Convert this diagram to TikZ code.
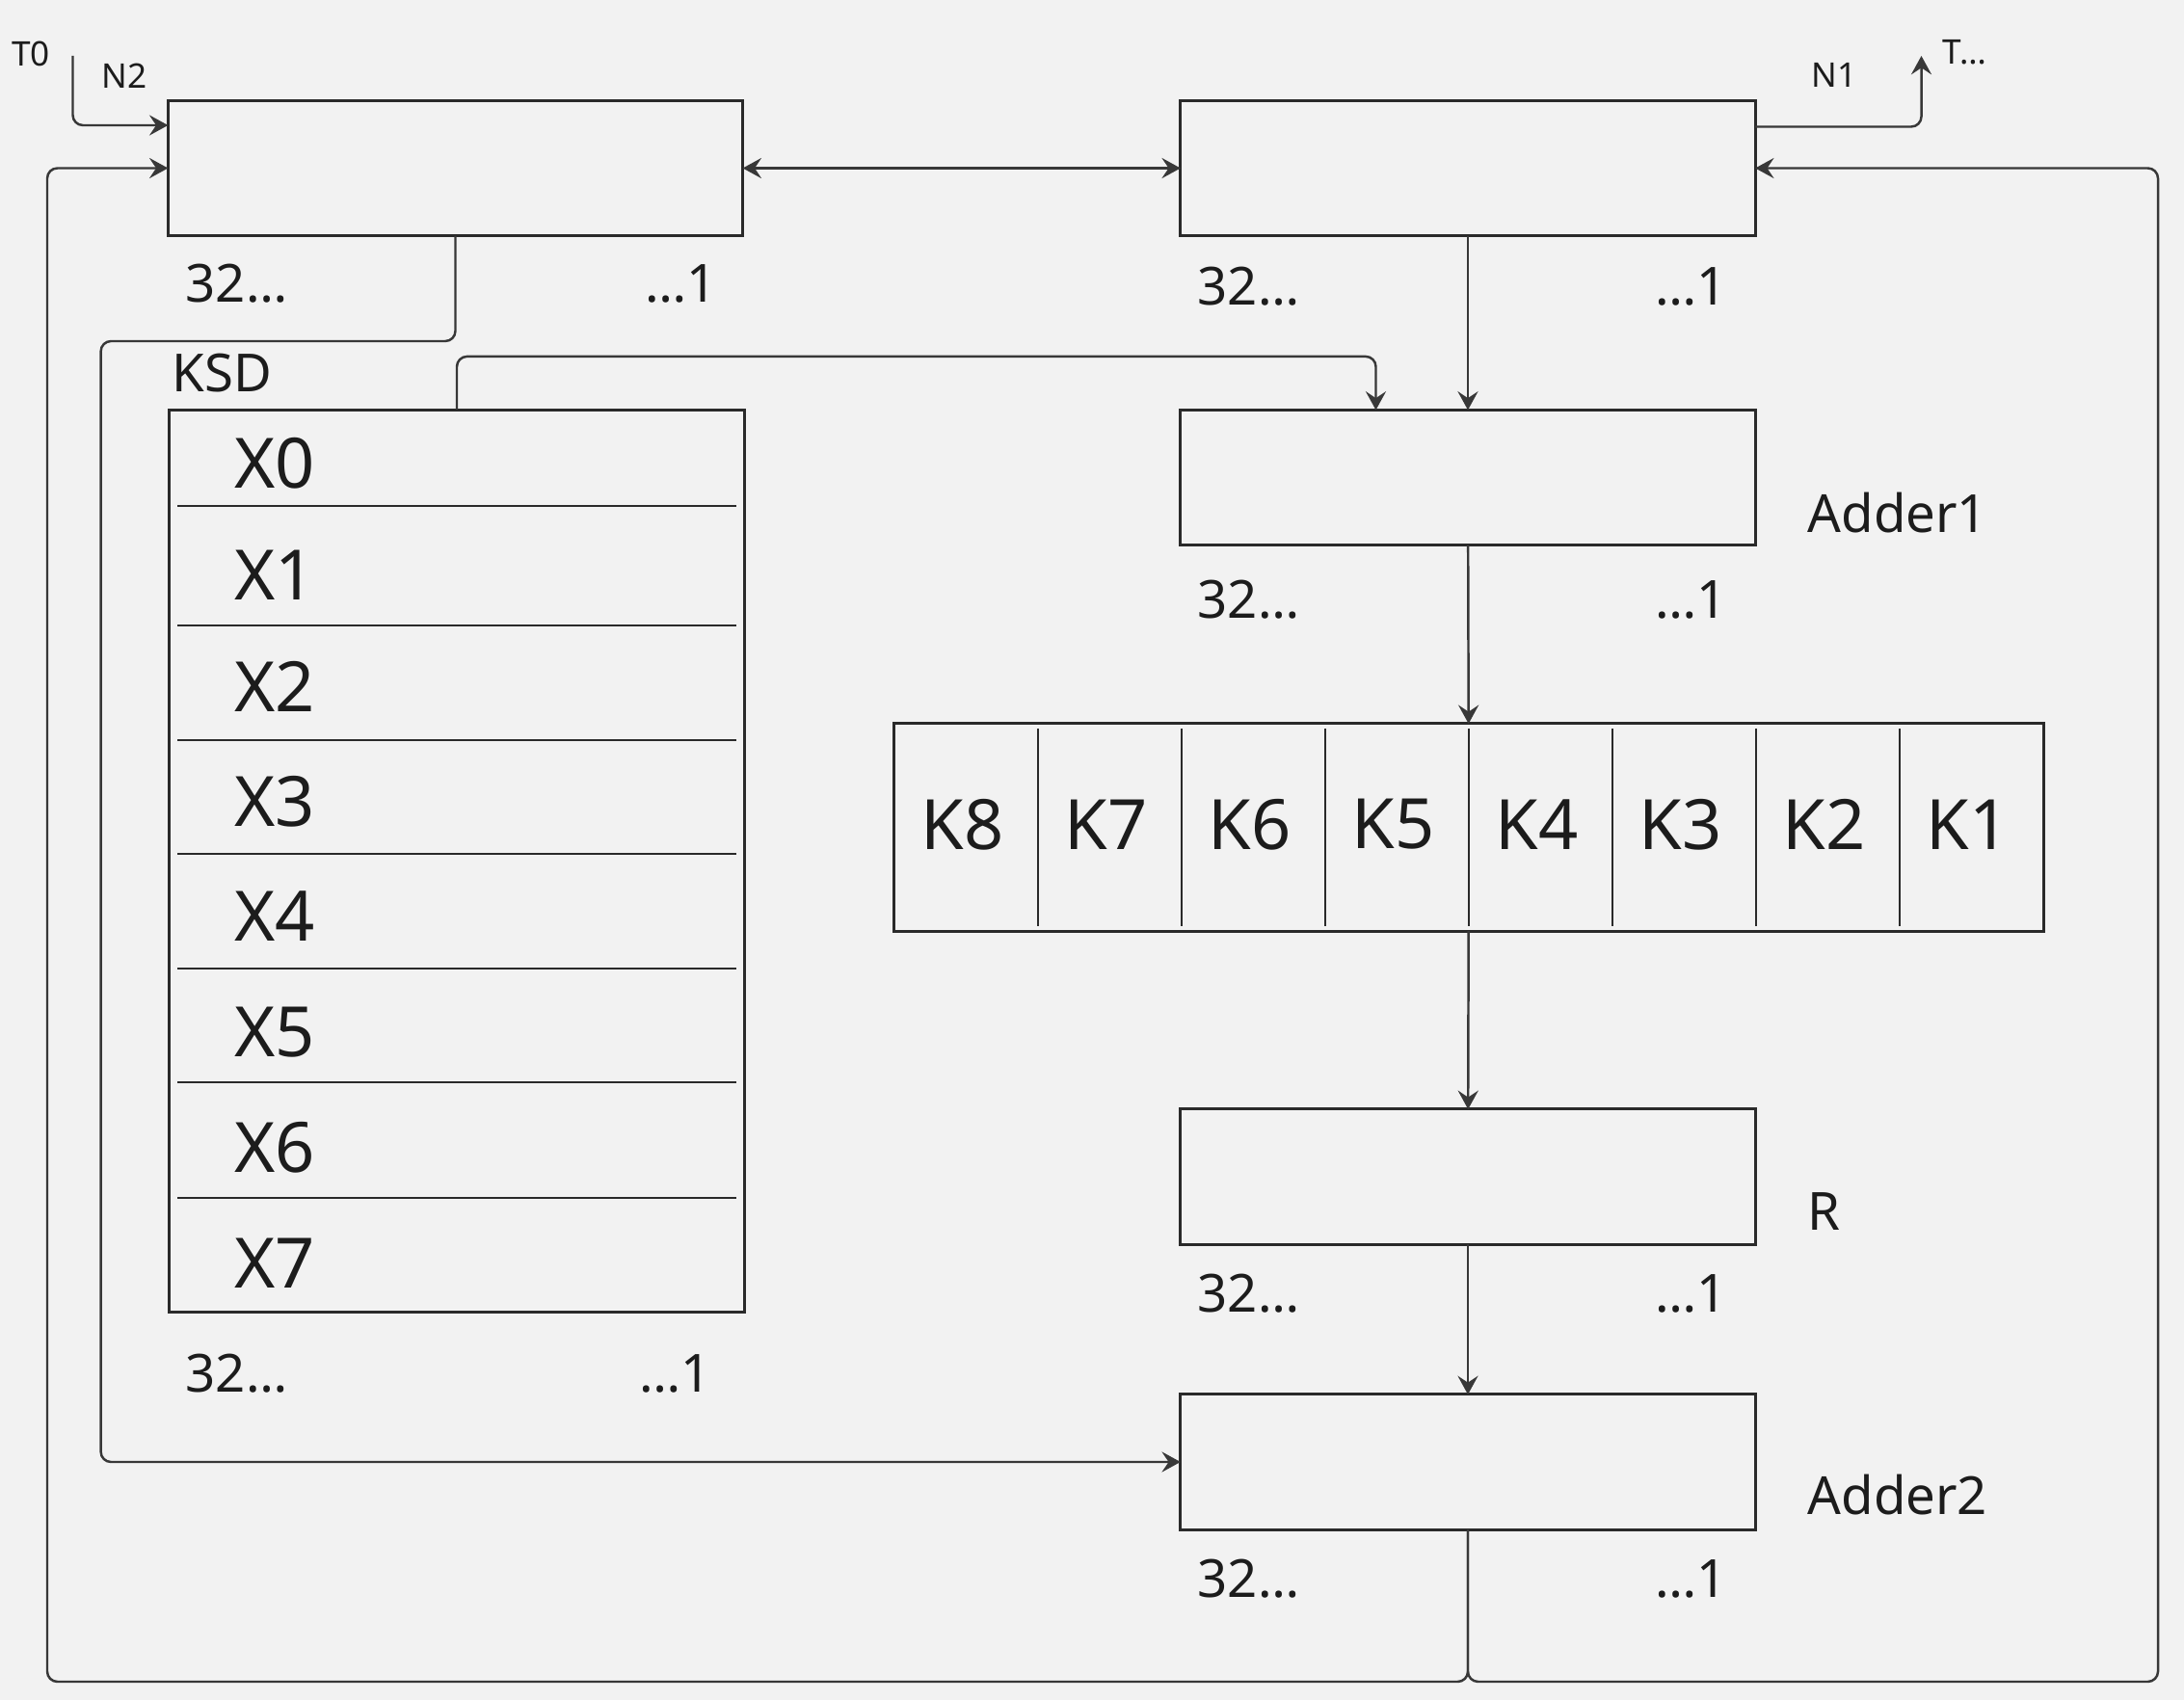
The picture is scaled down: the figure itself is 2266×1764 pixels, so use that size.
\documentclass[tikz,border=0pt]{standalone}
\usepackage{xcolor}
\usepackage{fontspec}
\setmainfont{Noto Sans}
\usepackage{tikz}
\usetikzlibrary{arrows.meta,positioning,calc}

\definecolor{bgcol}{HTML}{F2F2F2}
\definecolor{boxcol}{HTML}{2A2A2A}
\definecolor{wirecol}{HTML}{383838}
\definecolor{txtcol}{HTML}{1C1C1C}

\begin{document}
\begin{tikzpicture}[
  x=0.01cm, y=-0.01cm,
  reg/.style    = {draw=boxcol, line width=0.85pt, minimum width=5.96cm,
                   minimum height=1.40cm, inner sep=0pt, outer sep=0pt},
  cellsep/.style= {draw=boxcol, line width=0.6pt},
  bigtxt/.style = {font=\fontsize{20.5}{24}\selectfont, text=txtcol, inner sep=0pt},
  bits/.style   = {font=\fontsize{15.5}{18}\selectfont, text=txtcol, inner sep=0pt},
  regname/.style= {font=\fontsize{15.5}{18}\selectfont, text=txtcol, inner sep=0pt, anchor=west},
  tag/.style    = {font=\fontsize{10}{12}\selectfont, text=txtcol, inner sep=0pt},
  arr/.style    = {-{Stealth[length=5.5pt, width=6pt, inset=2pt]}, line width=0.7pt,
                   draw=wirecol, rounded corners=3pt},
  darr/.style   = {{Stealth[length=5.5pt, width=6pt, inset=2pt]}-{Stealth[length=5.5pt, width=6pt, inset=2pt]},
                   line width=0.7pt, draw=wirecol},
]

\fill[bgcol] (0,0) rectangle (2266,1764);

%% ─── registers ────────────────────────────────────────────────────────────
\node[reg] (n2reg)  at (472.5,174.5) {};
\node[reg] (n1reg)  at (1523,174.5)  {};
\node[reg] (adder1) at (1523,495.5)  {};
\node[reg] (rreg)   at (1523,1221)   {};
\node[reg] (adder2) at (1523,1517)   {};

%% ─── key storage (X0..X7) ─────────────────────────────────────────────────
\node[reg, minimum height=9.36cm] (ksd) at (474,893.5) {};
\foreach \y in {524.7, 649, 767.7, 885.7, 1005.3, 1123.3, 1242.7}
  \draw[cellsep] (184,\y) -- (764,\y);
\foreach \y [count=\i from 0] in {481, 597, 712, 832, 951, 1071, 1191, 1311}
  \node[bigtxt, anchor=west] (x\i) at (243,\y) {X\i};
\node[regname] (ksdname) at (178,387) {KSD};

%% ─── substitution block (K8..K1) ──────────────────────────────────────────
\node[reg, minimum width=11.92cm, minimum height=2.15cm] (kreg) at (1524,858.5) {};
\foreach \j in {1,...,7}
  \draw[cellsep] ($(kreg.north west)+(149*\j,5)$) -- ($(kreg.south west)+(149*\j,-5)$);
\foreach \j [evaluate=\j as \k using int(9-\j)] in {1,...,8}
  \node[bigtxt] (k\k) at ($(kreg.west)+(149*\j-78,-3)$) {K\k};

%% ─── bit labels ───────────────────────────────────────────────────────────
\foreach \y in {294, 1425}
  \node[bits, anchor=west] at (192,\y) {32…};
\node[bits, anchor=east] at (744,294)  {…1};
\node[bits, anchor=east] at (738,1425) {…1};
\foreach \y in {297, 622, 1342, 1638} {
  \node[bits, anchor=west] at (1242,\y) {32…};
  \node[bits, anchor=east] at (1792,\y) {…1};
}

\node[regname] (a1name) at (1875,532)  {Adder1};
\node[regname] (rname)  at (1875,1257) {R};
\node[regname] (a2name) at (1875,1551) {Adder2};

%% ─── input / output tags ──────────────────────────────────────────────────
\node[tag] (t0) at (32,56)   {T0};
\node[tag] (n2) at (129,79)  {N2};
\node[tag] (n1) at (1903,78) {N1};
\node[tag, anchor=west] (tout) at (2015,54) {T…};

\coordinate (t0in)  at (75.5,58);
\coordinate (toutc) at (1993.5,58);
\coordinate (tapL)  at (104.6,354);
\coordinate (loopL) at (49,1745);
\coordinate (loopR) at (2239,1745);

%% ─── main flow arrows ─────────────────────────────────────────────────────
\foreach \a/\b in {n1reg/adder1, adder1/kreg, kreg/rreg, rreg/adder2}
  \draw[arr] (\a)--(\b);
\draw[darr] (n2reg.east)--(n1reg.west);

\draw[arr] (t0in) |- ($(n2reg.west)+(0,-44.5)$);
\draw[arr] ($(n1reg.east)+(0,-43)$) -| (toutc);

%% ─── key and register taps ────────────────────────────────────────────────
\draw[arr] (ksd.north) -- ++(0,-55.3) -| ($(adder1.north)+(-95.5,0)$);
\draw[arr] (n2reg.south) |- (tapL) |- (adder2.west);

%% ─── feedback from Adder2 ─────────────────────────────────────────────────
\draw[arr] (adder2.south) |- (loopL) |- (n2reg.west);
\draw[arr] (adder2.south) |- (loopR) |- (n1reg.east);

\end{tikzpicture}
\end{document}
